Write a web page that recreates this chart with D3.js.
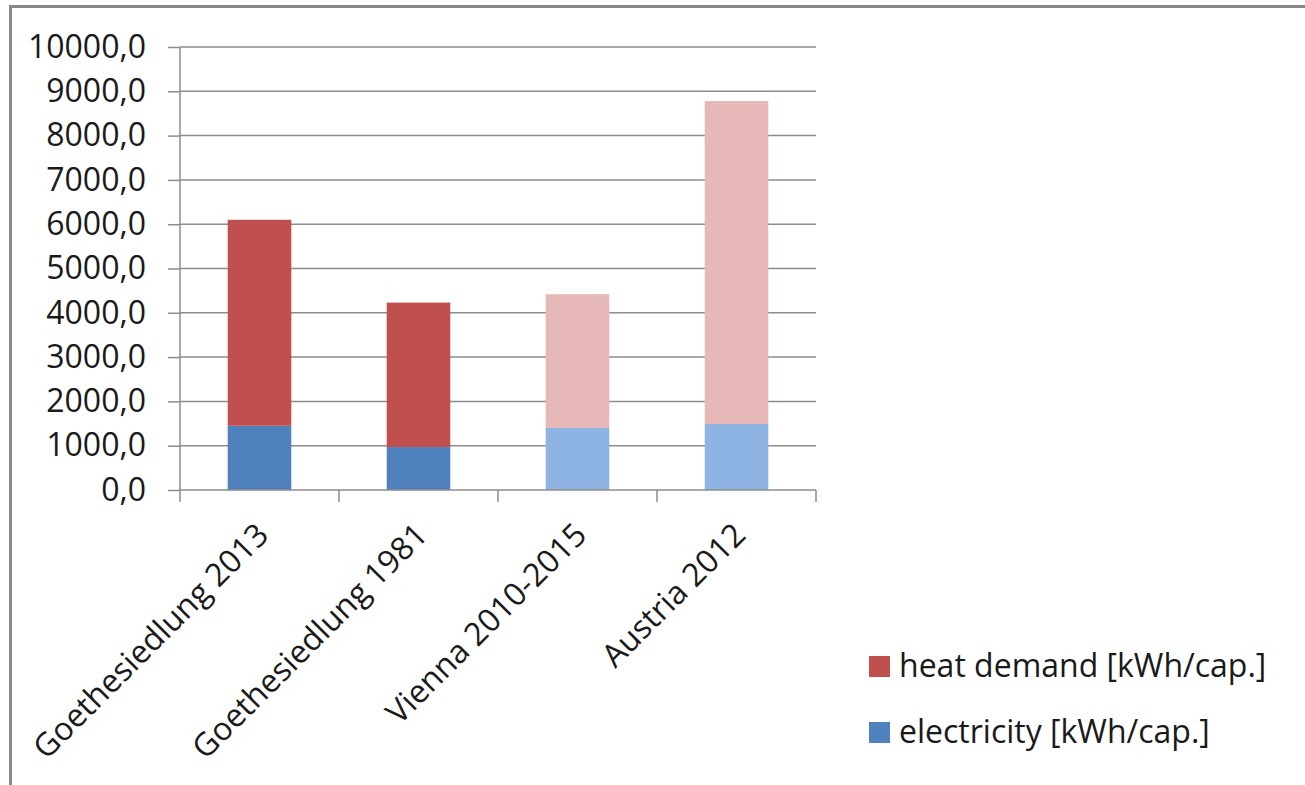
<!DOCTYPE html>
<html><head><meta charset="utf-8">
<script src="https://cdn.jsdelivr.net/npm/d3@7"></script>
<style>
body{margin:0;background:#fff;}
svg{display:block;font-family:"Open Sans",sans-serif;}
</style></head><body>
<svg id="c" width="1305" height="785"></svg>
<script>
const categories = ["Goethesiedlung 2013","Goethesiedlung 1981","Vienna 2010-2015","Austria 2012"];
const electricity = [1450, 970, 1400, 1490];
const heatDemand = [4650, 3260, 3020, 7290];
const yTicks = [0,1000,2000,3000,4000,5000,6000,7000,8000,9000,10000];
const seriesNames = ["heat demand [kWh/cap.]","electricity [kWh/cap.]"];
const heatColors = ["#C0504D","#C0504D","#E6B9B8","#E6B9B8"];
const elecColors = ["#4F81BD","#4F81BD","#8EB4E3","#8EB4E3"];

const svg = d3.select("#c");
const mL = 180, mR = 816, mT = 47, mB = 490;
const FS = 32;
const x = d3.scaleBand().domain(categories).range([mL,mR]).paddingInner(0.6).paddingOuter(0.3);
const y = d3.scaleLinear().domain([0,10000]).range([mB,mT]);
const grid = "#8c8c8c";

// frame
svg.append("path").attr("d","M10.5,785 V6.5 H1305").attr("fill","none").attr("stroke","#888").attr("stroke-width",3);

// gridlines
svg.append("g").selectAll("line").data(yTicks.filter(d=>d>0)).join("line")
  .attr("x1",mL).attr("x2",mR).attr("y1",d=>y(d)).attr("y2",d=>y(d))
  .attr("stroke",grid).attr("stroke-width",1.5);

// bars
const g = svg.append("g");
categories.forEach((c,i)=>{
  g.append("rect").attr("x",x(c)).attr("width",x.bandwidth())
   .attr("y",y(electricity[i])).attr("height",y(0)-y(electricity[i])).attr("fill",elecColors[i]);
  g.append("rect").attr("x",x(c)).attr("width",x.bandwidth())
   .attr("y",y(electricity[i]+heatDemand[i])).attr("height",y(electricity[i])-y(electricity[i]+heatDemand[i])).attr("fill",heatColors[i]);
});

// y axis
const ya = svg.append("g").attr("transform",`translate(${mL},0)`)
  .call(d3.axisLeft(y).tickValues(yTicks).tickSize(12).tickPadding(22).tickFormat(d=>d3.format(".1f")(d).replace(".",",")));
ya.select(".domain").attr("stroke",grid).attr("stroke-width",1.5).attr("d",`M-0,${mT}V${mB}`);
ya.selectAll(".tick line").attr("stroke",grid).attr("stroke-width",1.5);
ya.selectAll("text").attr("font-size",FS).attr("fill","#1a1a1a").attr("font-family","Open Sans");

// x axis
const xa = svg.append("g").attr("transform",`translate(0,${mB})`);
xa.append("line").attr("x1",mL).attr("x2",mR).attr("stroke",grid).attr("stroke-width",1.5);
const bounds = [mL, ...categories.map(c=>x(c)+x.bandwidth()/2+x.step()/2)];
xa.selectAll("line.t").data(bounds).join("line").attr("class","t")
  .attr("x1",d=>d).attr("x2",d=>d).attr("y1",0).attr("y2",12).attr("stroke",grid).attr("stroke-width",1.5);
xa.selectAll("text").data(categories).join("text")
  .attr("transform",d=>`translate(${x(d)+x.bandwidth()/2-5},${31}) rotate(-45)`)
  .attr("text-anchor","end").attr("dy","0.7em").attr("font-size",FS).attr("fill","#1a1a1a")
  .text(d=>d);

// legend
const lg = svg.append("g");
const legendColors = ["#C0504D","#4F81BD"];
seriesNames.forEach((n,i)=>{
  const yy = 656 + i*66;
  lg.append("rect").attr("x",869).attr("y",yy).attr("width",21).attr("height",21).attr("fill",legendColors[i]);
  lg.append("text").attr("x",899).attr("y",yy+21).attr("font-size",FS).attr("fill","#1a1a1a").text(n);
});
</script>
</body></html>
